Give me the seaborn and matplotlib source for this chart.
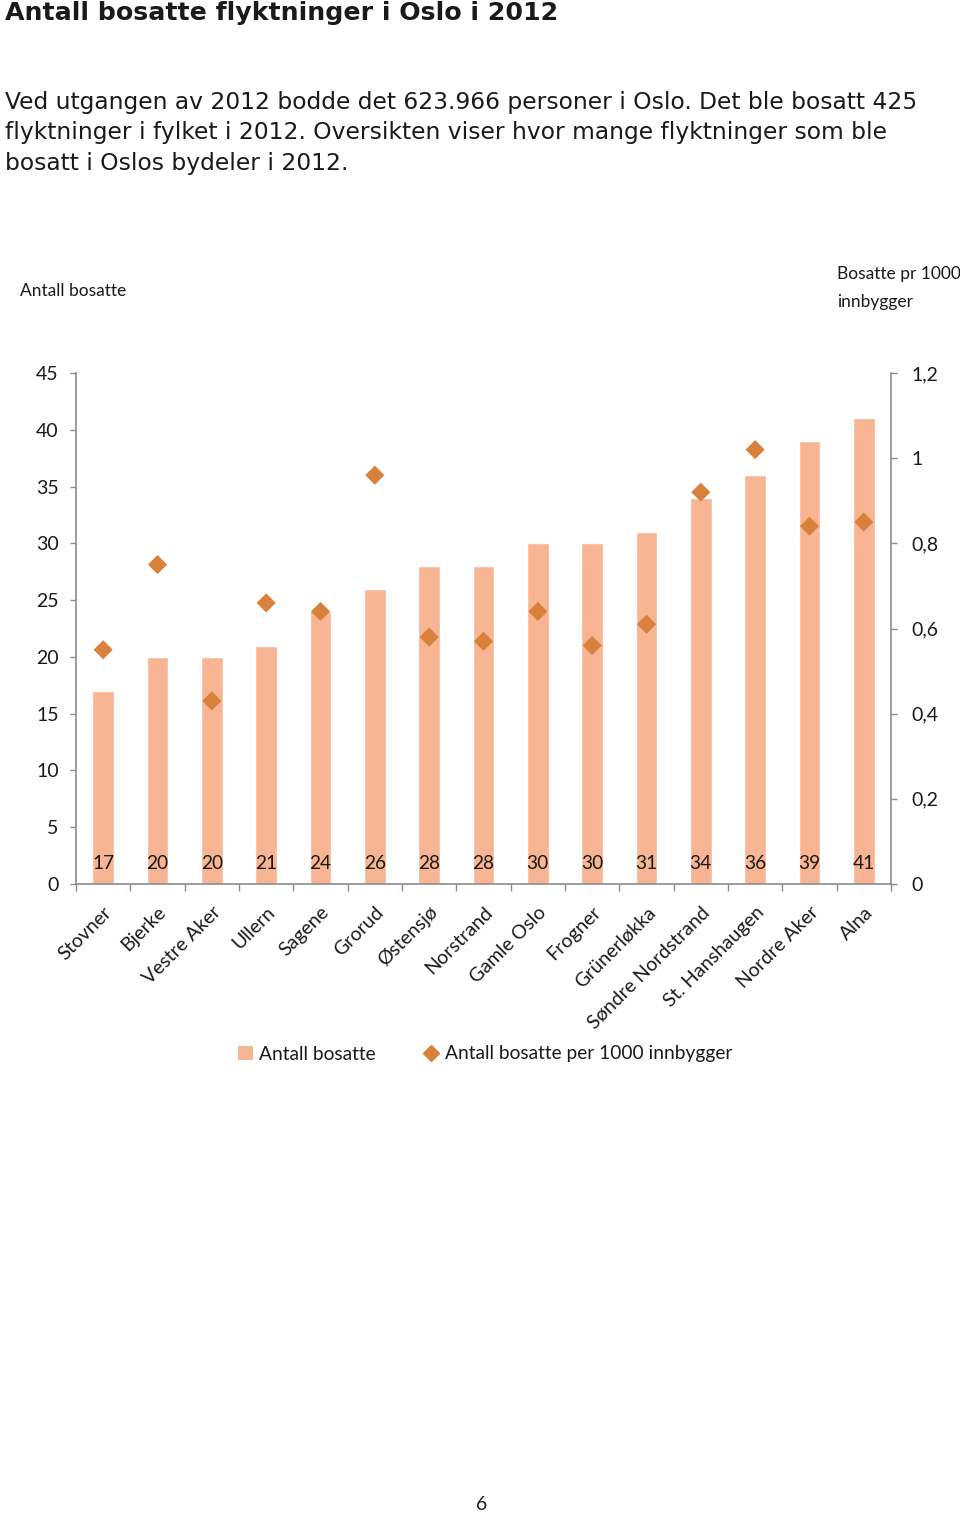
import matplotlib
matplotlib.use("Agg")
import matplotlib.pyplot as plt
import seaborn as sns
import pandas as pd
from matplotlib.lines import Line2D
from matplotlib.patches import Patch

districts = ["Stovner", "Bjerke", "Vestre Aker", "Ullern", "Sagene", "Grorud", "Østensjø",
             "Norstrand", "Gamle Oslo", "Frogner", "Grünerløkka", "Søndre Nordstrand",
             "St. Hanshaugen", "Nordre Aker", "Alna"]
antall = [17, 20, 20, 21, 24, 26, 28, 28, 30, 30, 31, 34, 36, 39, 41]
per1000 = [0.55, 0.75, 0.43, 0.66, 0.64, 0.96, 0.58, 0.57, 0.64, 0.56, 0.61, 0.92, 1.02, 0.84, 0.85]
left_ticks = [0, 5, 10, 15, 20, 25, 30, 35, 40, 45]
right_ticks = [0, 0.2, 0.4, 0.6, 0.8, 1.0, 1.2]
right_labels = ["0", "0,2", "0,4", "0,6", "0,8", "1", "1,2"]

df = pd.DataFrame({"bydel": districts, "antall": antall, "per1000": per1000})

sns.set_theme(style="white")
plt.rcParams["font.family"] = ["Lato", "DejaVu Sans"]

BAR = "#F7B593"
DIA = "#D9813A"
AX = "#8C8C8C"
TXT = "#1a1a1a"

fig = plt.figure(figsize=(9.6, 15.15), dpi=100)
ax = fig.add_axes([76/960, 1 - 884/1515, (891 - 76)/960, (884 - 373)/1515])

sns.barplot(data=df, x="bydel", y="antall", color=BAR, width=0.4, saturation=1, ax=ax, zorder=2)
ax.set_xlim(-0.5, len(districts) - 0.5)
ax.set_ylim(0, 45)
ax.set_yticks(left_ticks)
ax.set_xlabel("")
ax.set_ylabel("")

for i, v in enumerate(antall):
    ax.annotate(str(v), xy=(i, 0), xytext=(0, 15), textcoords="offset points",
                ha="center", va="center", fontsize=13.8, color=TXT, zorder=5)

ax2 = ax.twinx()
sns.scatterplot(data=df, x="bydel", y="per1000", marker="D", color=DIA, s=95,
                edgecolor="none", ax=ax2, zorder=4)
ax2.set_ylim(0, 1.2)
ax2.set_yticks(right_ticks)
ax2.set_yticklabels(right_labels)
ax2.set_ylabel("")
ax2.set_xlim(-0.5, len(districts) - 0.5)

for a in (ax, ax2):
    a.spines["top"].set_visible(False)
    for s in ("left", "right", "bottom"):
        a.spines[s].set_color(AX)
        a.spines[s].set_linewidth(1.2)
    a.grid(False)

ax.spines["right"].set_visible(False)
ax2.spines["left"].set_visible(False)
ax2.spines["bottom"].set_visible(False)

ax.tick_params(axis="y", which="major", direction="out", length=4.5, width=1, color=AX,
               labelsize=14, labelcolor=TXT, pad=8, left=True)
ax2.tick_params(axis="y", which="major", direction="out", length=4.5, width=1, color=AX,
                labelsize=14, labelcolor=TXT, pad=10, right=True)

ax.set_xticks(range(len(districts)))
ax.set_xticklabels(districts, rotation=45, ha="right", rotation_mode="anchor",
                   fontsize=14, color=TXT)
ax.set_xticks([i - 0.5 for i in range(len(districts) + 1)], minor=True)
ax.tick_params(axis="x", which="major", length=0, pad=14)
ax.tick_params(axis="x", which="minor", direction="out", length=5, width=1, color=AX, bottom=True)

fig.text(20/960, 1 - 291/1515, "Antall bosatte", fontsize=12.5, color=TXT, va="center", ha="left")
fig.text(837/960, 1 - 288/1515, "Bosatte pr 1000\ninnbygger", fontsize=12.5, color=TXT,
         va="center", ha="left", linespacing=1.9)

fig.text(5/960, 1 - 13/1515, "Antall bosatte flyktninger i Oslo i 2012", fontsize=18.2,
         fontweight="bold", family="DejaVu Sans", color=TXT, va="center", ha="left")
body = ("Ved utgangen av 2012 bodde det 623.966 personer i Oslo. Det ble bosatt 425\n"
        "flyktninger i fylket i 2012. Oversikten viser hvor mange flyktninger som ble\n"
        "bosatt i Oslos bydeler i 2012.")
fig.text(5/960, 1 - 133/1515, body, fontsize=16.85, family="DejaVu Sans", color=TXT,
         va="center", ha="left", linespacing=1.42)

handles = [Patch(facecolor=BAR, edgecolor="none", label="Antall bosatte"),
           Line2D([], [], marker="D", color=DIA, linestyle="none", markersize=8,
                  label="Antall bosatte per 1000 innbygger")]
fig.legend(handles=handles, loc="center", bbox_to_anchor=(485/960, 1 - 1054/1515), ncol=2,
           frameon=False, fontsize=13.8, handlelength=0.8, handleheight=0.8,
           handletextpad=0.3, columnspacing=2.5, labelcolor=TXT)

fig.text(482/960, 1 - 1505/1515, "6", fontsize=14, color=TXT, ha="center", va="center")

fig.savefig("out.png", dpi=100, facecolor="white")
